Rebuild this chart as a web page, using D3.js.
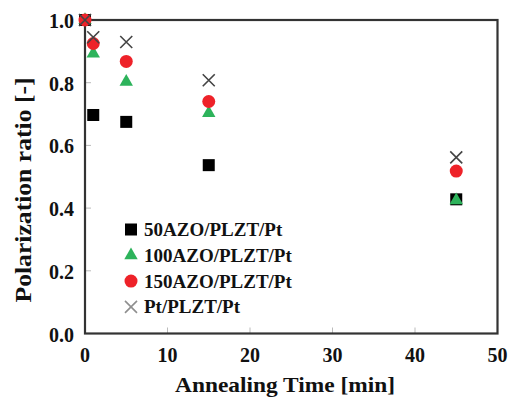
<!DOCTYPE html>
<html>
<head>
<meta charset="utf-8">
<script src="https://cdn.jsdelivr.net/npm/d3@7"></script>
<style>
  body { margin: 0; background: #fff; }
  svg text { font-family: "Liberation Serif", "DejaVu Serif", serif; font-weight: bold; fill: #111; }
</style>
</head>
<body>
<svg id="chart" width="511" height="398"></svg>
<script>
// annealing times (min)
var times = [0, 1, 5, 15, 45];
var seriesNames = ["50AZO/PLZT/Pt", "100AZO/PLZT/Pt", "150AZO/PLZT/Pt", "Pt/PLZT/Pt"];
var azo50 = [1.0, 0.697, 0.675, 0.537, 0.428];
var azo100 = [1.0, 0.893, 0.803, 0.703, 0.425];
var azo150 = [1.0, 0.925, 0.868, 0.74, 0.518];
var ptRef = [1.0, 0.945, 0.93, 0.808, 0.562];
var xTicks = [0, 10, 20, 30, 40, 50];
var yTicks = [0.0, 0.2, 0.4, 0.6, 0.8, 1.0];

var svg = d3.select('#chart');
var plotLeft = 85, plotRight = 497.5, plotTop = 20, plotBottom = 333.5;

var x = d3.scaleLinear().domain([0, 50]).range([plotLeft, plotRight]);
var y = d3.scaleLinear().domain([0, 1]).range([plotBottom, plotTop]);

// inner ticks
svg.append('g').selectAll('line')
    .data(xTicks.slice(1, -1))
    .enter().append('line')
    .attr('x1', function (d) { return x(d); })
    .attr('x2', function (d) { return x(d); })
    .attr('y1', plotBottom)
    .attr('y2', plotBottom - 6)
    .style('stroke', '#bbb');
svg.append('g').selectAll('line')
    .data(yTicks.slice(1, -1))
    .enter().append('line')
    .attr('x1', plotLeft)
    .attr('x2', plotLeft + 6)
    .attr('y1', function (d) { return y(d); })
    .attr('y2', function (d) { return y(d); })
    .style('stroke', '#bbb');

// frame
svg.append('rect')
    .attr('x', plotLeft).attr('y', plotTop)
    .attr('width', plotRight - plotLeft).attr('height', plotBottom - plotTop)
    .style('fill', 'none')
    .style('stroke', '#333')
    .style('stroke-width', 2.2);

// tick labels
svg.append('g').selectAll('text')
    .data(xTicks)
    .enter().append('text')
    .attr('x', function (d) { return x(d); })
    .attr('y', 362)
    .attr('text-anchor', 'middle')
    .style('font-size', '20px')
    .text(function (d) { return d; });
svg.append('g').selectAll('text')
    .data(yTicks)
    .enter().append('text')
    .attr('x', 74)
    .attr('y', function (d) { return y(d) + 8; })
    .attr('text-anchor', 'end')
    .style('font-size', '20px')
    .text(function (d) { return d.toFixed(1); });

// axis titles
svg.append('text')
    .attr('x', 285).attr('y', 392)
    .attr('text-anchor', 'middle')
    .attr('textLength', 220)
    .attr('lengthAdjust', 'spacingAndGlyphs')
    .style('font-size', '22px')
    .text('Annealing Time [min]');
svg.append('text')
    .attr('transform', 'translate(31,190) rotate(-90)')
    .attr('text-anchor', 'middle')
    .attr('textLength', 225)
    .attr('lengthAdjust', 'spacingAndGlyphs')
    .style('font-size', '23px')
    .text('Polarization ratio [-]');

// marker painters
var drawers = [
    function (g) { g.append('rect').attr('x', -6).attr('y', -6).attr('width', 12).attr('height', 12).style('fill', '#000'); },
    function (g) { g.append('path').attr('d', d3.symbol().type(d3.symbolTriangle).size(78)()).style('fill', '#2db35b'); },
    function (g) { g.append('circle').attr('r', 6.5).style('fill', '#ee2229'); },
    function (g) {
        g.append('path').attr('d', 'M-6,-6L6,6M-6,6L6,-6')
            .style('stroke', '#444').style('stroke-width', 1.6).style('fill', 'none');
    }
];
var allSeries = [azo50, azo100, azo150, ptRef];

allSeries.forEach(function (vals, s) {
    vals.forEach(function (v, i) {
        var g = svg.append('g').attr('transform', 'translate(' + x(times[i]) + ',' + y(v) + ')');
        drawers[s](g);
    });
});

// legend
seriesNames.forEach(function (name, i) {
    var ly = 229.5 + i * 25.8;
    var g = svg.append('g').attr('transform', 'translate(131,' + ly + ')');
    if (i === 3) g.style('opacity', 0.6);
    drawers[i](g);
    svg.append('text')
        .attr('x', 144).attr('y', ly + 6.5)
        .style('font-size', '19px')
        .text(name);
});
</script>
</body>
</html>
